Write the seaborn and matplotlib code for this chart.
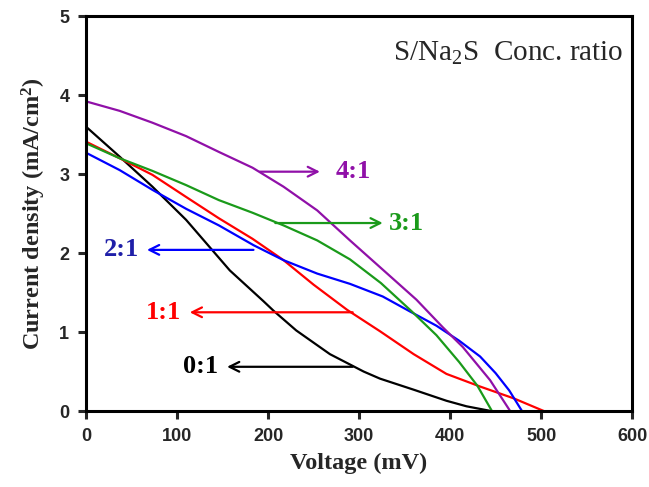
import numpy as np
import pandas as pd
import matplotlib
matplotlib.use("Agg")
import matplotlib.pyplot as plt
import seaborn as sns

# Data (Voltage mV, Current density mA/cm^2)
v_01 = [0, 37, 73, 110, 146, 158, 195, 206, 231, 268, 305, 323, 360, 396, 418, 445]
j_01 = [3.60, 3.22, 2.84, 2.42, 1.94, 1.78, 1.39, 1.27, 1.02, 0.72, 0.50, 0.41, 0.27, 0.13, 0.06, 0.0]

v_11 = [0, 37, 73, 110, 146, 183, 217, 250, 287, 323, 360, 396, 433, 470, 503]
j_11 = [3.41, 3.20, 2.99, 2.71, 2.44, 2.18, 1.91, 1.60, 1.28, 1.01, 0.72, 0.47, 0.31, 0.16, 0.0]

v_21 = [0, 37, 73, 110, 146, 184, 217, 254, 290, 326, 356, 385, 410, 433, 450, 465, 479]
j_21 = [3.27, 3.05, 2.80, 2.56, 2.35, 2.10, 1.91, 1.74, 1.61, 1.45, 1.26, 1.08, 0.89, 0.69, 0.48, 0.26, 0.0]

v_31 = [0, 37, 73, 110, 146, 183, 217, 254, 290, 324, 358, 385, 410, 430, 446]
j_31 = [3.39, 3.20, 3.04, 2.86, 2.67, 2.51, 2.35, 2.16, 1.92, 1.62, 1.26, 0.96, 0.62, 0.32, 0.0]

v_41 = [0, 37, 73, 110, 146, 183, 217, 254, 290, 327, 363, 392, 414, 444, 466]
j_41 = [3.92, 3.80, 3.65, 3.48, 3.28, 3.08, 2.84, 2.54, 2.16, 1.78, 1.41, 1.06, 0.81, 0.39, 0.0]

ratios = ["0:1", "1:1", "2:1", "3:1", "4:1"]
line_colors = ["#000000", "#ff0000", "#0000ff", "#1a9a1a", "#9010a8"]
label_colors = ["#000000", "#ff0000", "#1f1fa8", "#1a9a1a", "#9010a8"]

# annotation arrows: y level, tail x, head x, label x
ann_y = [0.56, 1.25, 2.04, 2.38, 3.03]
ann_tail = [293, 293, 184, 208, 191]
ann_head = [155, 114, 67, 326, 257]
ann_text = [145, 105, 58, 333, 274]

series_v = [v_01, v_11, v_21, v_31, v_41]
series_j = [j_01, j_11, j_21, j_31, j_41]
frames = []
for r, v, j in zip(ratios, series_v, series_j):
    frames.append(pd.DataFrame({"Voltage": v, "Current": j, "ratio": r}))
df = pd.concat(frames, ignore_index=True)

sns.set_style("white")
plt.rcParams["font.family"] = ["Liberation Sans", "DejaVu Sans"]
plt.rcParams["mathtext.fontset"] = "custom"
plt.rcParams["mathtext.rm"] = "Liberation Serif"
plt.rcParams["mathtext.it"] = "Liberation Serif:italic"
plt.rcParams["mathtext.bf"] = "Liberation Serif:bold"

fig = plt.figure(figsize=(6.49, 4.87), dpi=100)
ax = fig.add_axes([0.1325, 0.156, 0.8415, 0.811])

sns.lineplot(data=df, x="Voltage", y="Current", hue="ratio", palette=dict(zip(ratios, line_colors)),
             sort=False, estimator=None, units="ratio", linewidth=1.6, legend=False, ax=ax)

for lab, y, t, h, tx, c, lc in zip(ratios, ann_y, ann_tail, ann_head, ann_text, line_colors, label_colors):
    ax.annotate("", xy=(h, y), xytext=(t, y),
                arrowprops=dict(arrowstyle="->,head_length=0.7,head_width=0.35", color=c, lw=1.6,
                                shrinkA=0, shrinkB=0))
    ha = "right" if h < t else "left"
    ax.text(tx, y, lab, color=lc, fontsize=19, fontweight="bold", family="Liberation Serif",
            ha=ha, va="center")

ax.text(0.984, 0.94, r"S/Na$_\mathrm{2}$S  Conc. ratio", transform=ax.transAxes, ha="right", va="top",
        fontsize=21, family="Liberation Serif")

ax.set_xlim(0, 600)
ax.set_ylim(0, 5)
ax.set_xticks([0, 100, 200, 300, 400, 500, 600])
ax.set_yticks([0, 1, 2, 3, 4, 5])
ax.set_xlabel("Voltage (mV)", fontsize=17.5, fontweight="bold", family="Liberation Serif", labelpad=6)
ax.set_ylabel(r"Current density (mA/cm$^\mathbf{2}$)", fontsize=17.5, fontweight="bold",
              family="Liberation Serif", labelpad=8)
for s in ax.spines.values():
    s.set_linewidth(2.2)
    s.set_color("black")
ax.tick_params(axis="both", direction="out", length=6, width=2.2, labelsize=13, pad=6,
               bottom=True, left=True)
for lab in ax.get_xticklabels() + ax.get_yticklabels():
    lab.set_fontweight("bold")

fig.savefig("out.png", dpi=100)
